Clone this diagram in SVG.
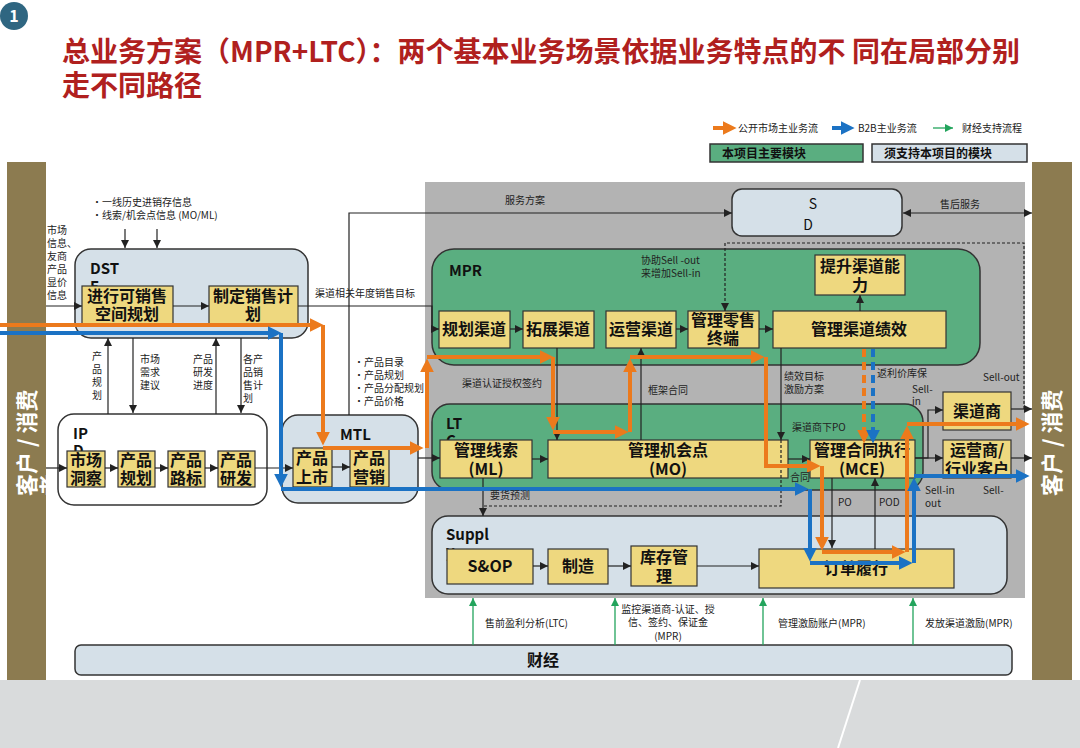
<svg xmlns="http://www.w3.org/2000/svg" width="1080" height="748" viewBox="0 0 1080 748">
<style>
text{font-family:"Noto Sans CJK SC","Liberation Sans",sans-serif;}
.lbl{font-size:10px;fill:#222;}
.bx{font-size:16px;font-weight:bold;fill:#111;text-anchor:middle;}
.cap{font-size:15px;font-weight:bold;fill:#111;}
.y{fill:#eed87f;stroke:#333;stroke-width:1.2;}
.g{fill:#5aae80;stroke:#333;stroke-width:1.5;}
.lb{fill:#d5e0e8;stroke:#333;stroke-width:1.5;}
.ln{stroke:#222;stroke-width:1.2;fill:none;}
.dl{stroke:#222;stroke-width:1.2;fill:none;stroke-dasharray:3 2;}
.or{stroke:#ec7a1c;stroke-width:4;fill:none;}
.bl{stroke:#1b72c4;stroke-width:4;fill:none;}
.gr{stroke:#22a45c;stroke-width:1.3;fill:none;}
.bar{fill:#8c7b50;}
.side{font-size:22px;font-weight:bold;fill:#fff;}
</style>
<defs>
<marker id="ak" viewBox="0 0 10 10" refX="10" refY="5" markerWidth="8" markerHeight="8" orient="auto" markerUnits="userSpaceOnUse"><path d="M0,0 L10,5 L0,10 z" fill="#222"/></marker>
<marker id="aks" viewBox="0 0 10 10" refX="0" refY="5" markerWidth="8" markerHeight="8" orient="auto" markerUnits="userSpaceOnUse"><path d="M10,0 L0,5 L10,10 z" fill="#222"/></marker>
<marker id="ao" viewBox="0 0 10 10" refX="6" refY="5" markerWidth="14" markerHeight="14" orient="auto" markerUnits="userSpaceOnUse"><path d="M0,0 L10,5 L0,10 z" fill="#ec7a1c"/></marker>
<marker id="ab" viewBox="0 0 10 10" refX="6" refY="5" markerWidth="14" markerHeight="14" orient="auto" markerUnits="userSpaceOnUse"><path d="M0,0 L10,5 L0,10 z" fill="#1b72c4"/></marker>
<marker id="ag" viewBox="0 0 10 10" refX="10" refY="5" markerWidth="8" markerHeight="8" orient="auto" markerUnits="userSpaceOnUse"><path d="M0,0 L10,5 L0,10 z" fill="#22a45c"/></marker>
</defs>

<rect width="1080" height="748" fill="#fff"/>
<rect x="0" y="680" width="1080" height="68" fill="#d9dbdc"/>
<line x1="860" y1="680" x2="838" y2="748" stroke="#fff" stroke-width="2"/>

<g id="badge">
<circle cx="14" cy="16" r="14" fill="#2f6681"/>
<text x="14" y="22" font-size="16" font-weight="bold" fill="#fff" text-anchor="middle">1</text>
</g>
<g id="title" fill="#b0201e" font-size="28" font-weight="bold">
<text x="62" y="62">总业务方案（MPR+LTC）：两个基本业务场景依据业务特点的不 同在局部分别<tspan x="62" y="96">走不同路径</tspan></text>
</g>

<g id="legend">
<line x1="713" y1="128" x2="731" y2="128" class="or" marker-end="url(#ao)"/>
<text x="738" y="132" class="lbl">公开市场主业务流</text>
<line x1="832" y1="128" x2="849" y2="128" class="bl" marker-end="url(#ab)"/>
<text x="858" y="132" class="lbl">B2B主业务流</text>
<line x1="933" y1="128" x2="953" y2="128" class="gr" marker-end="url(#ag)"/>
<text x="962" y="132" class="lbl">财经支持流程</text>
<rect x="710" y="144" width="153" height="18" class="g"/>
<text x="722" y="158" font-size="12" font-weight="bold" fill="#111">本项目主要模块</text>
<rect x="872" y="144" width="155" height="18" class="lb"/>
<text x="884" y="158" font-size="12" font-weight="bold" fill="#111">须支持本项目的模块</text>
</g>

<g id="left-bar">
<rect x="7" y="162" width="39" height="518" class="bar"/>
<text transform="translate(35,496) rotate(-90)" class="side">客户 / 消费<tspan x="0" y="23">者</tspan></text>
</g>
<g id="right-bar">
<rect x="1032" y="162" width="40" height="518" class="bar"/>
<text transform="translate(1060,496) rotate(-90)" class="side">客户 / 消费</text>
</g>

<rect id="scope" x="425" y="182" width="600" height="416" fill="#b3b3b3"/>

<g id="SD">
<rect x="732" y="189" width="170" height="47" rx="10" class="lb"/>
<text x="813" y="209" font-size="14" fill="#111" text-anchor="middle">S<tspan x="808" y="230">D</tspan></text>
</g>

<g id="DST">
<rect x="75" y="249" width="233" height="89" rx="16" class="lb"/>
<text x="90" y="274" class="cap">DST<tspan x="90" y="292">E</tspan></text>
</g>
<g id="IP">
<rect x="58" y="414" width="209" height="91" rx="16" fill="#fff" stroke="#333" stroke-width="1.5"/>
<text x="73" y="439" class="cap">IP<tspan x="73" y="456">D</tspan></text>
</g>
<g id="MTL">
<rect x="282" y="415" width="136" height="88" rx="16" class="lb"/>
<text x="340" y="440" class="cap">MTL</text>
</g>
<g id="MPR">
<rect x="432" y="249" width="548" height="116" rx="22" class="g"/>
<text x="449" y="276" class="cap">MPR</text>
<text x="641" y="264" class="lbl">协助Sell -out<tspan x="641" y="277">来增加Sell-in</tspan></text>
</g>
<g id="LTC">
<rect x="432" y="404" width="491" height="86" rx="18" class="g"/>
<text x="446" y="429" class="cap">LT<tspan x="446" y="446">C</tspan></text>
</g>
<g id="Supply">
<rect x="432" y="516" width="575" height="78" rx="16" class="lb"/>
<text x="446" y="540" class="cap">Suppl<tspan x="446" y="557">y</tspan></text>
</g>
<g id="Finance">
<rect x="75" y="645" width="937" height="30" rx="6" class="lb"/>
<text x="543" y="666" font-size="16" font-weight="bold" fill="#111" text-anchor="middle">财经</text>
</g>

<g id="n-kxs"><rect x="82" y="286" width="91" height="38" class="y"/><text x="127" y="302" class="bx">进行可销售<tspan x="127" y="320">空间规划</tspan></text></g>
<g id="n-zdxs"><rect x="209" y="286" width="89" height="38" class="y"/><text x="253" y="302" class="bx">制定销售计<tspan x="253" y="320">划</tspan></text></g>

<g id="n-scdc"><rect x="67" y="451" width="38" height="36" class="y"/><text x="86" y="466" class="bx">市场<tspan x="86" y="484">洞察</tspan></text></g>
<g id="n-cpgh"><rect x="118" y="451" width="37" height="36" class="y"/><text x="136" y="466" class="bx">产品<tspan x="136" y="484">规划</tspan></text></g>
<g id="n-cplb"><rect x="168" y="451" width="37" height="36" class="y"/><text x="186" y="466" class="bx">产品<tspan x="186" y="484">路标</tspan></text></g>
<g id="n-cpyf"><rect x="218" y="451" width="37" height="36" class="y"/><text x="236" y="466" class="bx">产品<tspan x="236" y="484">研发</tspan></text></g>

<g id="n-cpss"><rect x="293" y="448" width="39" height="39" class="y"/><text x="312" y="464" class="bx">产品<tspan x="312" y="483">上市</tspan></text></g>
<g id="n-cpyx"><rect x="350" y="448" width="39" height="39" class="y"/><text x="369" y="464" class="bx">产品<tspan x="369" y="483">营销</tspan></text></g>

<g id="n-ghqd"><rect x="439" y="311" width="71" height="37" class="y"/><text x="474" y="335" class="bx">规划渠道</text></g>
<g id="n-tzqd"><rect x="523" y="311" width="71" height="37" class="y"/><text x="558" y="335" class="bx">拓展渠道</text></g>
<g id="n-yyqd"><rect x="606" y="311" width="70" height="37" class="y"/><text x="641" y="335" class="bx">运营渠道</text></g>
<g id="n-glls"><rect x="688" y="311" width="71" height="37" class="y"/><text x="723" y="326" class="bx">管理零售<tspan x="723" y="344">终端</tspan></text></g>
<g id="n-glqdjx"><rect x="773" y="311" width="173" height="37" class="y"/><text x="859" y="335" class="bx">管理渠道绩效</text></g>
<g id="n-tsqdnl"><rect x="815" y="255" width="90" height="40" class="y"/><text x="860" y="272" class="bx">提升渠道能<tspan x="860" y="291">力</tspan></text></g>

<g id="n-ML"><rect x="440" y="440" width="92" height="38" class="y"/><text x="486" y="456" class="bx">管理线索<tspan x="486" y="475">(ML)</tspan></text></g>
<g id="n-MO"><rect x="548" y="440" width="240" height="38" class="y"/><text x="668" y="456" class="bx">管理机会点<tspan x="668" y="475">(MO)</tspan></text></g>
<g id="n-MCE"><rect x="810" y="440" width="105" height="38" class="y"/><text x="862" y="456" class="bx">管理合同执行<tspan x="862" y="475">(MCE)</tspan></text></g>
<g id="n-qds"><rect x="943" y="392" width="68" height="38" class="y"/><text x="977" y="417" class="bx">渠道商</text></g>
<g id="n-yys"><rect x="943" y="440" width="68" height="38" class="y"/><text x="977" y="456" class="bx">运营商/<tspan x="977" y="475">行业客户</tspan></text></g>

<g id="n-sop"><rect x="447" y="549" width="86" height="35" class="y"/><text x="490" y="572" class="bx">S&amp;OP</text></g>
<g id="n-zz"><rect x="548" y="549" width="60" height="35" class="y"/><text x="578" y="572" class="bx">制造</text></g>
<g id="n-kcgl"><rect x="631" y="546" width="66" height="40" class="y"/><text x="664" y="563" class="bx">库存管<tspan x="664" y="582">理</tspan></text></g>
<g id="n-ddlx"><rect x="759" y="549" width="195" height="39" class="y"/><text x="856" y="574" class="bx">订单履行</text></g>

<g id="connectors">
<line x1="125" y1="229" x2="125" y2="248" class="ln" marker-end="url(#ak)"/>
<line x1="157" y1="229" x2="157" y2="248" class="ln" marker-end="url(#ak)"/>
<line x1="46" y1="306" x2="82" y2="306" class="ln" marker-end="url(#ak)"/>
<line x1="173" y1="306" x2="209" y2="306" class="ln" marker-end="url(#ak)"/>
<polyline points="298,306 432,306 432,329 439,329" class="ln" marker-end="url(#ak)"/>
<line x1="108" y1="414" x2="108" y2="338" class="ln" marker-end="url(#ak)"/>
<line x1="133" y1="338" x2="133" y2="413" class="ln" marker-end="url(#ak)"/>
<line x1="216" y1="414" x2="216" y2="338" class="ln" marker-end="url(#ak)"/>
<line x1="241" y1="338" x2="241" y2="413" class="ln" marker-end="url(#ak)"/>
<line x1="46" y1="468" x2="67" y2="468" class="ln" marker-end="url(#ak)"/>
<line x1="105" y1="468" x2="118" y2="468" class="ln" marker-end="url(#ak)"/>
<line x1="155" y1="468" x2="168" y2="468" class="ln" marker-end="url(#ak)"/>
<line x1="205" y1="468" x2="218" y2="468" class="ln" marker-end="url(#ak)"/>
<line x1="255" y1="468" x2="293" y2="468" class="ln" marker-end="url(#ak)"/>
<line x1="332" y1="467" x2="350" y2="467" class="ln" marker-end="url(#ak)"/>
<line x1="418" y1="458" x2="440" y2="458" class="ln" marker-end="url(#ak)"/>
<polyline points="349,415 349,213 732,213" class="ln" marker-end="url(#ak)"/>
<line x1="903" y1="213" x2="1032" y2="213" class="ln" marker-start="url(#aks)" marker-end="url(#ak)"/>
<polyline points="1024,409 1024,243 725,243 725,311" class="dl" marker-end="url(#ak)"/>
<line x1="510" y1="329" x2="523" y2="329" class="ln" marker-end="url(#ak)"/>
<line x1="676" y1="329" x2="688" y2="329" class="ln" marker-end="url(#ak)"/>
<line x1="759" y1="329" x2="773" y2="329" class="ln" marker-end="url(#ak)"/>
<line x1="860" y1="311" x2="860" y2="295" class="ln" marker-end="url(#ak)"/>
<line x1="557" y1="348" x2="557" y2="440" class="ln" marker-end="url(#ak)"/>
<line x1="641" y1="440" x2="641" y2="348" class="ln" marker-end="url(#ak)"/>
<line x1="781" y1="348" x2="781" y2="440" class="ln" marker-end="url(#ak)"/>
<line x1="532" y1="459" x2="548" y2="459" class="ln" marker-end="url(#ak)"/>
<line x1="788" y1="459" x2="810" y2="459" class="ln" marker-end="url(#ak)"/>
<polyline points="915,458 928,458 928,410 943,410" class="ln" marker-end="url(#ak)"/>
<line x1="915" y1="458" x2="943" y2="458" class="ln" marker-end="url(#ak)"/>
<line x1="1011" y1="409" x2="1032" y2="409" class="ln" marker-end="url(#ak)"/>
<line x1="1011" y1="458" x2="1032" y2="458" class="ln" marker-end="url(#ak)"/>
<line x1="483" y1="478" x2="483" y2="516" class="ln" marker-end="url(#ak)"/>
<polyline points="781,440 781,506 484,506" class="dl"/>
<line x1="832" y1="478" x2="832" y2="548" class="ln" marker-end="url(#ak)"/>
<line x1="875" y1="549" x2="875" y2="478" class="ln" marker-end="url(#ak)"/>
<line x1="533" y1="566" x2="548" y2="566" class="ln" marker-end="url(#ak)"/>
<line x1="608" y1="566" x2="631" y2="566" class="ln" marker-end="url(#ak)"/>
<line x1="697" y1="566" x2="759" y2="566" class="ln" marker-end="url(#ak)"/>
<line x1="473" y1="645" x2="473" y2="598" class="gr" marker-end="url(#ag)"/>
<line x1="615" y1="645" x2="615" y2="598" class="gr" marker-end="url(#ag)"/>
<line x1="763" y1="645" x2="763" y2="598" class="gr" marker-end="url(#ag)"/>
<line x1="913" y1="645" x2="913" y2="598" class="gr" marker-end="url(#ag)"/>
<line x1="864" y1="349" x2="864" y2="438" class="or" stroke-dasharray="8 5" marker-end="url(#ao)"/>
<line x1="873" y1="349" x2="873" y2="438" class="bl" stroke-dasharray="8 5" marker-end="url(#ab)"/>
<line x1="0" y1="325" x2="318" y2="325" class="or" marker-end="url(#ao)"/>
<line x1="323" y1="325" x2="323" y2="440" class="or" marker-end="url(#ao)"/>
<line x1="323" y1="448" x2="418" y2="448" class="or" marker-end="url(#ao)"/>
<line x1="427" y1="448" x2="427" y2="364" class="or" marker-end="url(#ao)"/>
<line x1="427" y1="357" x2="548" y2="357" class="or" marker-end="url(#ao)"/>
<line x1="553" y1="357" x2="553" y2="425" class="or" marker-end="url(#ao)"/>
<line x1="553" y1="432" x2="623" y2="432" class="or" marker-end="url(#ao)"/>
<line x1="630" y1="432" x2="630" y2="364" class="or" marker-end="url(#ao)"/>
<line x1="630" y1="357" x2="759" y2="357" class="or" marker-end="url(#ao)"/>
<polyline points="766,357 766,466 815,466" class="or" marker-end="url(#ao)"/>
<line x1="822" y1="466" x2="822" y2="545" class="or" marker-end="url(#ao)"/>
<line x1="822" y1="552" x2="900" y2="552" class="or" marker-end="url(#ao)"/>
<line x1="907" y1="552" x2="907" y2="431" class="or" marker-end="url(#ao)"/>
<line x1="907" y1="424" x2="1024" y2="424" class="or" marker-end="url(#ao)"/>
<line x1="0" y1="333" x2="276" y2="333" class="bl" marker-end="url(#ab)"/>
<line x1="281" y1="333" x2="281" y2="482" class="bl" marker-end="url(#ab)"/>
<line x1="281" y1="489" x2="803" y2="489" class="bl" marker-end="url(#ab)"/>
<line x1="810" y1="489" x2="810" y2="556" class="bl" marker-end="url(#ab)"/>
<line x1="810" y1="563" x2="907" y2="563" class="bl" marker-end="url(#ab)"/>
<line x1="914" y1="563" x2="914" y2="483" class="bl" marker-end="url(#ab)"/>
<line x1="914" y1="476" x2="1024" y2="476" class="bl" marker-end="url(#ab)"/>
</g>

<g id="labels" class="lbl">
<text x="92" y="206">·一线历史进销存信息<tspan x="92" y="219">·线索/机会点信息 (MO/ML)</tspan></text>
<text x="47" y="234">市场<tspan x="47" y="247">信息、</tspan><tspan x="47" y="260">友商</tspan><tspan x="47" y="273">产品</tspan><tspan x="47" y="286">显价</tspan><tspan x="47" y="299">信息</tspan></text>
<text x="315" y="297">渠道相关年度销售目标</text>
<text x="505" y="204">服务方案</text>
<text x="940" y="208">售后服务</text>
<text x="92" y="360">产<tspan x="92" y="373">品</tspan><tspan x="92" y="386">规</tspan><tspan x="92" y="399">划</tspan></text>
<text x="140" y="363">市场<tspan x="140" y="376">需求</tspan><tspan x="140" y="389">建议</tspan></text>
<text x="193" y="363">产品<tspan x="193" y="376">研发</tspan><tspan x="193" y="389">进度</tspan></text>
<text x="243" y="363">各产<tspan x="243" y="376">品销</tspan><tspan x="243" y="389">售计</tspan><tspan x="243" y="402">划</tspan></text>
<text x="354" y="366">·产品目录<tspan x="354" y="379">·产品规划</tspan><tspan x="354" y="392">·产品分配规划</tspan><tspan x="354" y="405">·产品价格</tspan></text>
<text x="462" y="387">渠道认证授权签约</text>
<text x="648" y="394">框架合同</text>
<text x="784" y="380">绩效目标<tspan x="784" y="393">激励方案</tspan></text>
<text x="877" y="377">返利价库保</text>
<text x="792" y="431">渠道商下PO</text>
<text x="790" y="481">合同</text>
<text x="490" y="499">要货预测</text>
<text x="838" y="506">PO</text>
<text x="879" y="506">POD</text>
<text x="912" y="393">Sell-<tspan x="912" y="405">in</tspan></text>
<text x="983" y="381">Sell-out</text>
<text x="925" y="494">Sell-in<tspan x="925" y="507">out</tspan></text>
<text x="983" y="494">Sell-</text>
<text x="485" y="627">售前盈利分析(LTC)</text>
<text x="668" y="613" text-anchor="middle">监控渠道商-认证、授<tspan x="668" y="626">信、签约、保证金</tspan><tspan x="668" y="640">(MPR)</tspan></text>
<text x="778" y="627">管理激励账户(MPR)</text>
<text x="925" y="627">发放渠道激励(MPR)</text>
</g>
</svg>
